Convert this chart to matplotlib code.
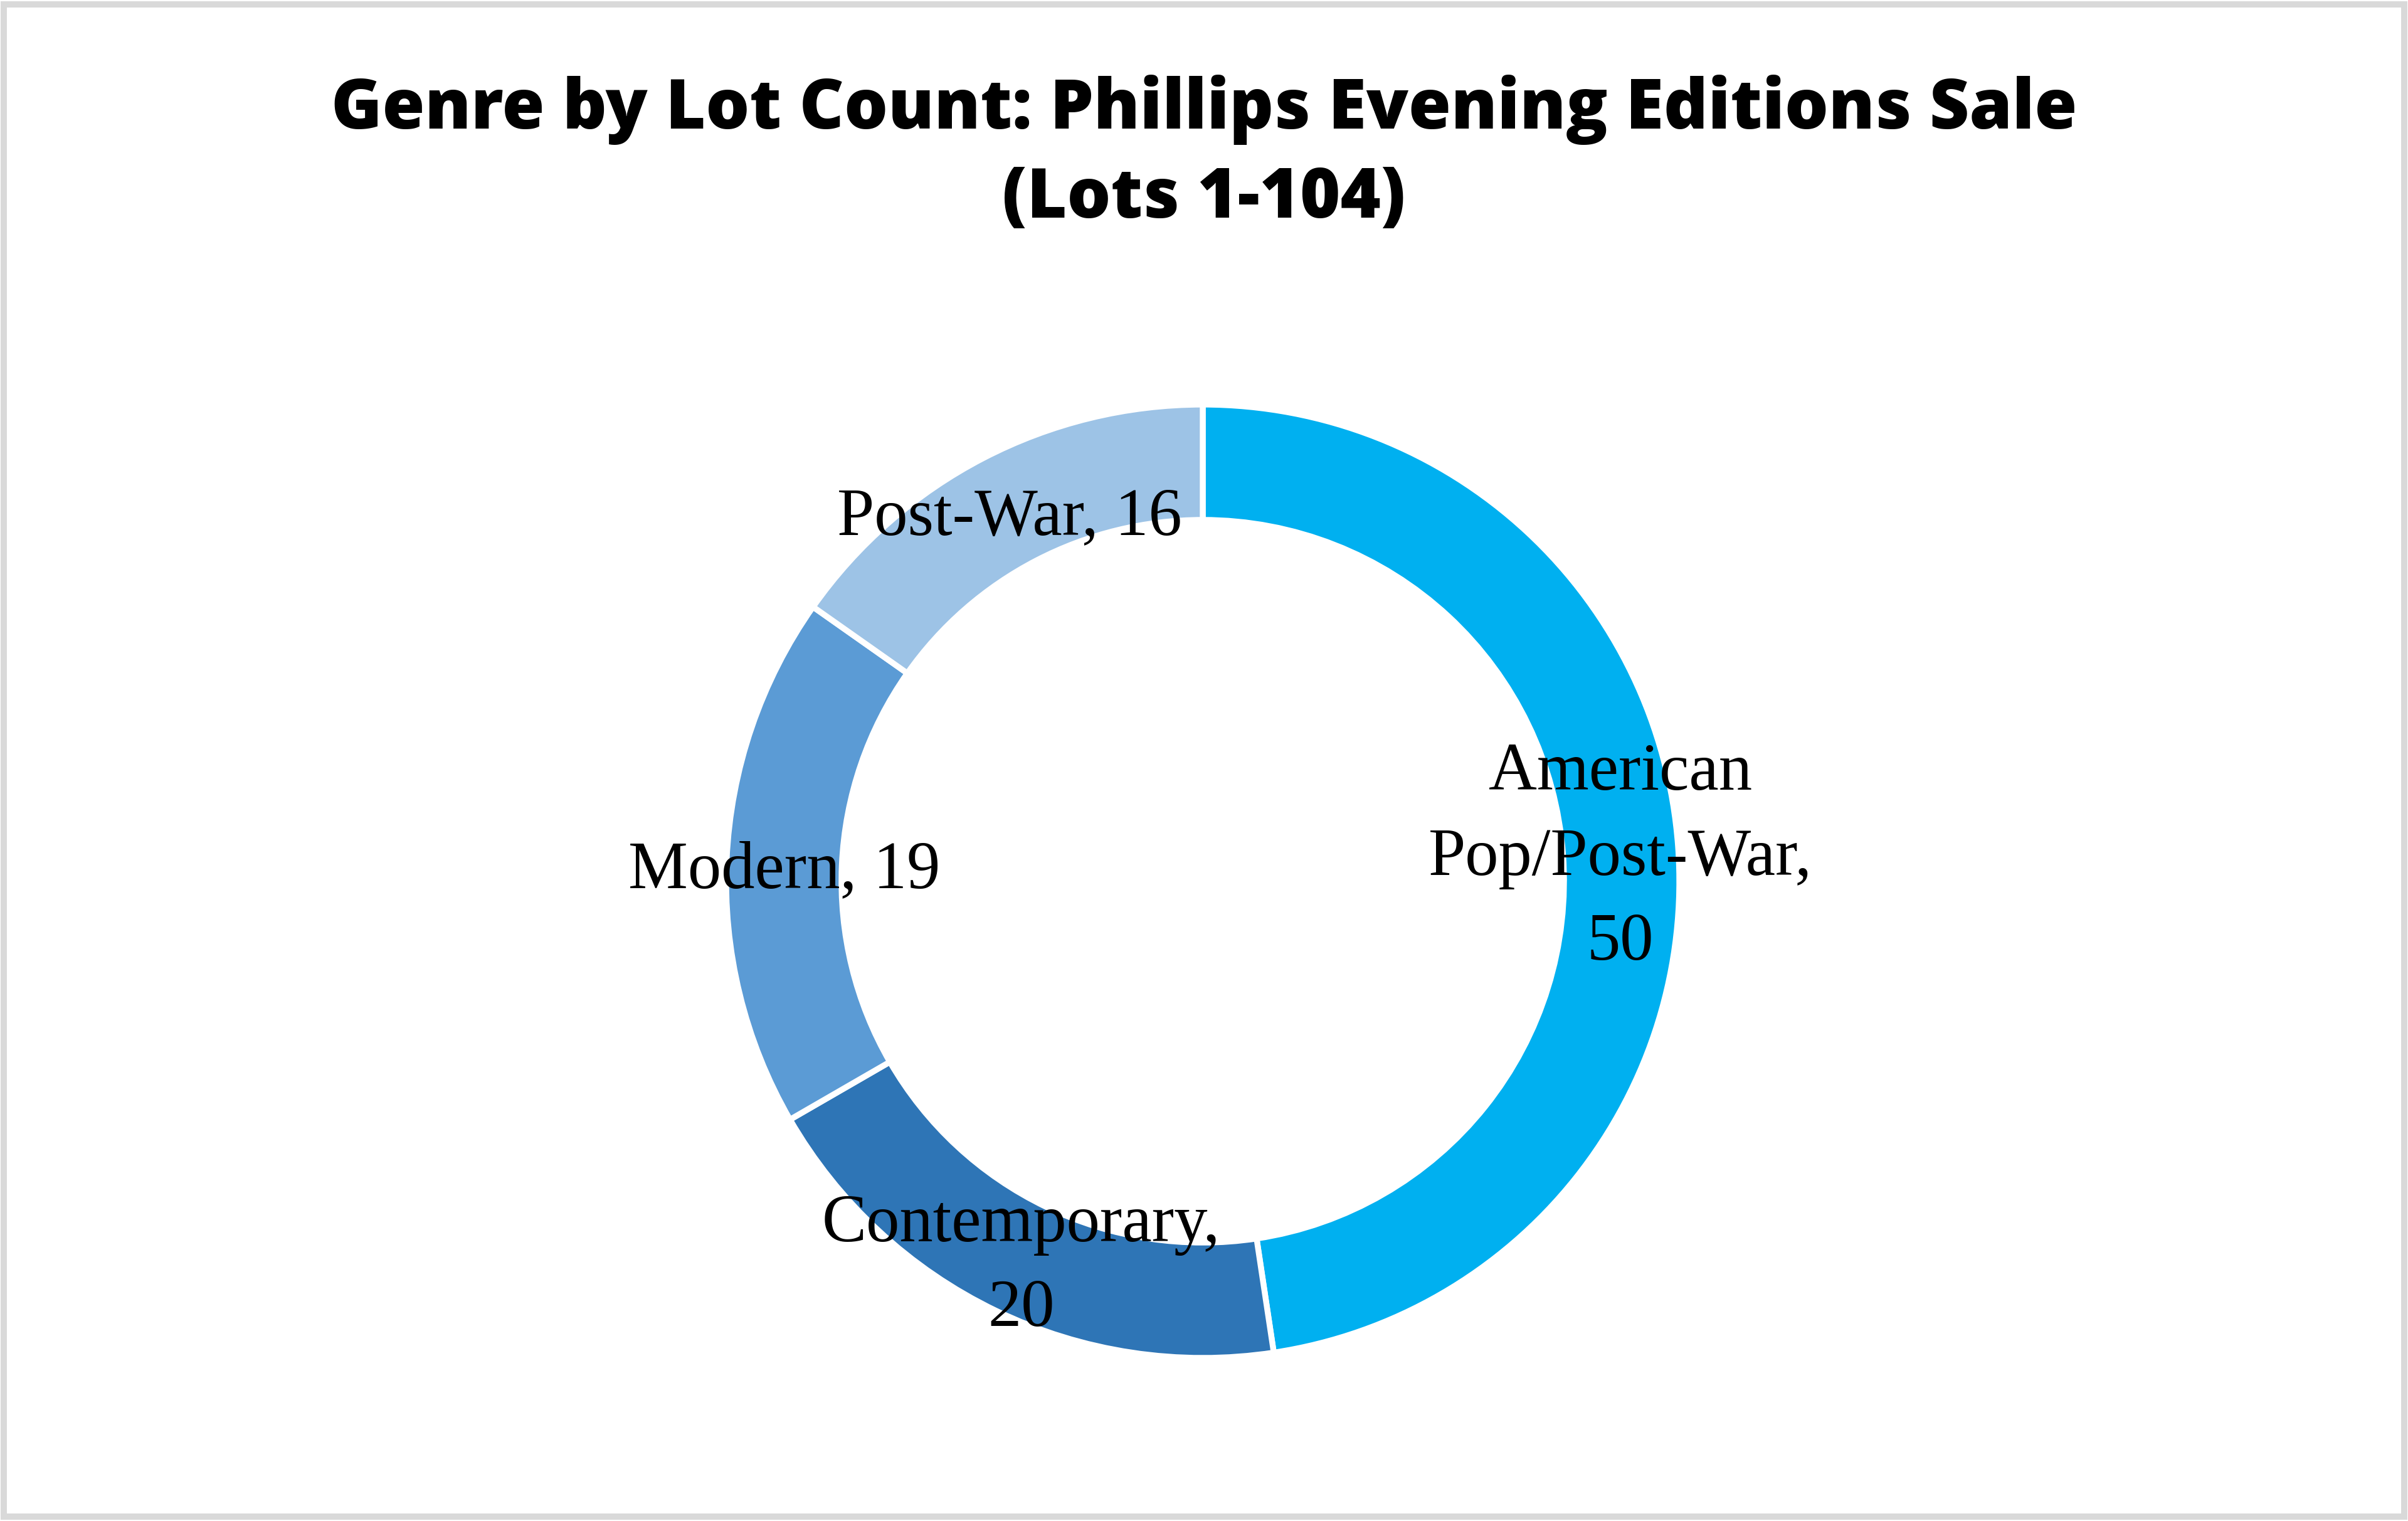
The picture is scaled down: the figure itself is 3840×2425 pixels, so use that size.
import matplotlib
matplotlib.use('Agg')
import matplotlib.pyplot as plt
import numpy as np
from matplotlib.patches import Rectangle

# ---- data ----
categories = ['American\nPop/Post-War', 'Contemporary', 'Modern', 'Post-War']
values = [50, 20, 19, 16]
separators = [',\n', ',\n', ', ', ', ']
colors = ['#00B0F0', '#2E75B6', '#5B9BD5', '#9DC3E6']
title_lines = ['Genre by Lot Count: Phillips Evening Editions Sale', '(Lots 1-104)']

W, H = 3840, 2425
DPI = 240
fig = plt.figure(figsize=(W / DPI, H / DPI), dpi=DPI)
fig.patch.set_facecolor('white')

# frame
fig.add_artist(Rectangle((6 / W, 7 / H), 1 - 12 / W, 1 - 14 / H, transform=fig.transFigure,
                         fill=False, edgecolor='#D9D9D9', linewidth=3.0))

# donut axes
cx, cy, R = 1918, 1405, 760
ax = fig.add_axes([(cx - R) / W, (H - cy - R) / H, 2 * R / W, 2 * R / H])
wedges, _ = ax.pie(values, colors=colors, startangle=90, counterclock=False, radius=1,
                   wedgeprops=dict(width=0.242, edgecolor='white', linewidth=2.8))
ax.set_xlim(-1, 1)
ax.set_ylim(-1, 1)
ax.set_aspect('equal')
ax.axis('off')

r_lab = 0.879
for w, cat, val, sep in zip(wedges, categories, values, separators):
    ang = np.deg2rad((w.theta1 + w.theta2) / 2)
    ax.text(r_lab * np.cos(ang), r_lab * np.sin(ang) - 0.018, f'{cat}{sep}{val}',
            ha='center', va='center', multialignment='center',
            fontsize=32, family='Liberation Serif', color='#000000',
            linespacing=1.5, clip_on=False)

# title
fig.text(0.5, 1 - 205 / H, title_lines[0], ha='center', va='baseline',
         fontsize=33, family='Open Sans', fontweight=800, color='black')
fig.text(0.5, 1 - 347 / H, title_lines[1], ha='center', va='baseline',
         fontsize=33, family='Open Sans', fontweight=800, color='black')

fig.savefig('out.png', dpi=DPI, facecolor='white')
